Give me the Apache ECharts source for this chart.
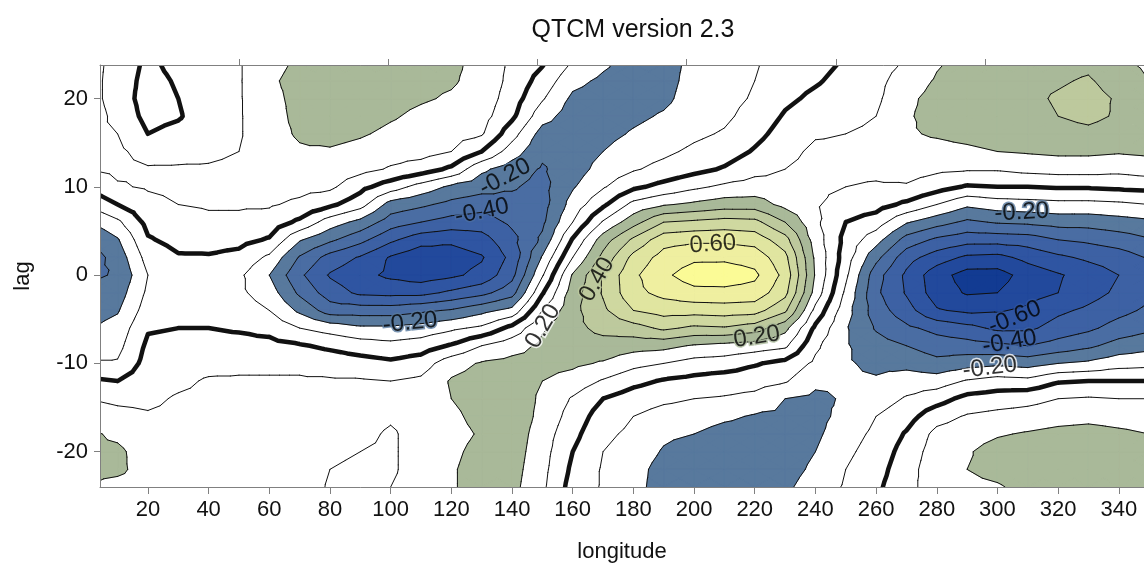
<!DOCTYPE html>
<html>
<head>
<meta charset="utf-8">
<script src="https://cdn.jsdelivr.net/npm/echarts@6/dist/echarts.min.js"></script>
<style>html,body{margin:0;padding:0;background:#fff}#chart{width:1144px;height:568px}</style>
</head>
<body>
<div id="chart"></div>
<script>
// ---- grid coordinates ----
const lonGrid = [0,10,20,30,40,50,60,70,80,90,100,110,120,130,140,150,160,170,180,190,200,210,220,230,240,250,260,270,280,290,300,310,320,330,340,350];
const lagGrid = [-24,-22,-20,-18,-16,-14,-12,-10,-8,-6,-4,-2,0,2,4,6,8,10,12,14,16,18,20,22,24];

// ---- correlation values x100, one column per longitude, lag -24 .. 24 ----
const c0   = [20,22,22,22,15,10,2,-9,-16,-21,-25,-28,-32,-36,-31,-21,-9,2,10,12,13,16,15,15,15];
const c10  = [17,22,22,18,13,8,0,-9,-13,-16,-21,-25,-29,-26,-21,-12,0,9,12,12,10,7,5,5,6];
const c20  = [16,16,15,13,11,8,6,4,2,-1,-5,-8,-10,-6,-1,3,7,11,11,6,0,-3,-4,-3,-2];
const c30  = [15,15,14,13,12,11,8,6,3,0,-3,-5,-6,-1,3,6,10,12,11,7,3,-1,0,1,3];
const c40  = [15,15,14,14,13,12,11,7,3,0,-4,-6,-5,-1,4,8,11,12,11,8,7,6,6,6,7];
const c50  = [15,14,14,14,13,12,11,8,3,-1,-5,-8,-8,-3,3,8,11,13,12,10,9,9,9,9,9];
const c60  = [15,14,14,14,13,12,11,8,3,-3,-10,-15,-20,-12,-1,6,11,14,15,16,17,17,18,19,18];
const c70  = [15,15,14,14,13,12,11,8,1,-10,-22,-32,-38,-31,-19,-2,8,13,16,19,21,22,22,22,21];
const c80  = [9,10,12,13,13,13,11,6,-2,-14,-35,-45,-51,-44,-28,-15,2,12,16,19,23,25,26,26,25];
const c90  = [7,8,10,12,13,13,11,4,-5,-18,-35,-52,-57,-51,-37,-23,-6,3,13,17,21,24,25,25,24];
const c100 = [10,9,9,9,11,12,10,2,-7,-18,-35,-53,-62,-61,-48,-35,-24,-5,9,14,18,21,23,24,24];
const c110 = [13,13,13,13,13,13,12,5,-5,-16,-32,-53,-65,-67,-56,-40,-28,-14,5,14,16,18,21,22,22];
const c120 = [19,19,18,17,18,20,21,16,1,-12,-29,-48,-62,-65,-58,-44,-33,-22,-2,10,14,16,19,21,22];
const c130 = [24,24,23,21,23,24,24,21,10,-8,-23,-43,-57,-61,-54,-45,-36,-26,-18,0,11,14,16,17,17];
const c140 = [23,24,25,26,27,27,26,23,16,3,-17,-34,-43,-47,-43,-38,-33,-29,-25,-15,-6,2,5,7,8];
const c150 = [12,13,14,15,17,18,20,23,22,19,10,-1,-11,-19,-28,-32,-34,-33,-31,-28,-24,-16,-9,-4,1];
const c160 = [-4,-2,0,3,6,9,16,22,25,27,27,25,21,10,1,-10,-16,-21,-25,-26,-26,-25,-22,-17,-11];
const c170 = [-11,-11,-10,-8,-5,0,9,19,26,33,38,41,41,33,25,11,-2,-11,-16,-20,-23,-25,-25,-22,-18];
const c180 = [-17,-16,-14,-12,-10,-5,3,13,24,36,50,57,58,53,42,26,13,-2,-11,-15,-19,-22,-24,-25,-25];
const c190 = [-24,-24,-21,-18,-14,-8,-1,10,23,42,54,63,68,64,56,40,19,3,-7,-12,-16,-19,-22,-23,-23];
const c200 = [-26,-27,-25,-20,-15,-10,-3,6,19,38,54,67,75,68,58,42,22,8,-3,-8,-12,-15,-16,-17,-18];
const c210 = [-27,-30,-28,-24,-18,-11,-5,5,17,39,55,67,76,68,58,44,25,12,1,-5,-9,-12,-13,-14,-14];
const c220 = [-26,-28,-27,-25,-21,-13,-6,1,15,35,54,66,72,66,56,43,25,14,7,1,-3,-6,-9,-10,-11];
const c230 = [-22,-24,-25,-24,-22,-20,-9,-3,12,23,42,53,57,53,44,30,17,13,10,7,4,1,-2,-4,-6];
const c240 = [-15,-18,-20,-22,-23,-22,-18,-12,-8,-2,7,16,19,18,15,12,11,12,13,12,9,5,2,-1,-3];
const c250 = [-9,-10,-12,-14,-17,-19,-19,-19,-19,-19,-16,-12,-8,-5,-3,0,6,10,12,12,10,7,5,3,1];
const c260 = [-2,-4,-6,-8,-10,-15,-19,-22,-26,-31,-35,-38,-36,-27,-16,-5,4,9,12,13,12,10,8,7,6];
const c270 = [7,6,4,1,-4,-9,-15,-23,-30,-38,-46,-51,-52,-46,-34,-19,-2,9,14,17,19,19,18,15,11];
const c280 = [15,16,15,13,6,-4,-15,-27,-35,-43,-59,-65,-66,-55,-42,-26,-10,4,12,17,21,23,23,21,19];
const c290 = [18,20,19,16,11,3,-9,-24,-36,-47,-62,-71,-74,-62,-46,-32,-18,-1,11,18,23,25,26,25,23];
const c300 = [19,23,24,19,13,5,-6,-22,-38,-52,-61,-70,-74,-63,-46,-29,-15,0,11,20,25,28,29,28,26];
const c310 = [23,26,26,21,14,7,-7,-24,-40,-52,-58,-64,-66,-57,-45,-28,-14,0,13,21,25,27,28,28,27];
const c320 = [22,26,27,23,16,10,-1,-20,-36,-46,-52,-60,-61,-52,-40,-26,-13,1,14,22,27,30,31,29,27];
const c330 = [23,26,27,24,17,11,0,-18,-32,-42,-48,-54,-56,-48,-38,-26,-13,1,14,22,28,32,33,31,28];
const c340 = [23,26,26,22,16,10,0,-14,-26,-36,-43,-48,-50,-45,-35,-24,-12,2,13,21,26,29,29,26,22];
const c350 = [22,25,24,20,15,10,0,-13,-23,-32,-38,-42,-43,-39,-31,-22,-10,3,15,22,23,23,22,20,18];
const columns = [c0,c10,c20,c30,c40,c50,c60,c70,c80,c90,c100,c110,c120,c130,c140,c150,c160,c170,c180,c190,c200,c210,c220,c230,c240,c250,c260,c270,c280,c290,c300,c310,c320,c330,c340,c350];

// ---- axis ticks ----
const xTickLabels = [20,40,60,80,100,120,140,160,180,200,220,240,260,280,300,320,340];
const topTicks = [50,100,150,200,250,300];
const yTickLabels = [-20,-10,0,10,20];

// ---- contour levels ----
const posLevels = [0.2,0.3,0.4,0.5,0.6,0.7];
const negLevels = [-0.2,-0.3,-0.4,-0.5,-0.6,-0.7];
const lineLevels = [-0.7,-0.6,-0.5,-0.4,-0.3,-0.2,-0.1,0,0.1,0.2,0.3,0.4,0.5,0.6,0.7];

// ---- contour labels: lon, lag, text, angle ----
const labelLon  = [137.7,130.1,106.4,150.2,168.0,206.2,220.7,308.0,305.7,304.0,297.5];
const labelLag  = [11.1,7.2,-5.4,-5.8,-0.5,3.5,-7.0,7.1,-4.8,-7.6,-10.5];
const labelText = ['-0.20','-0.40','-0.20','0.20','0.40','0.60','0.20','-0.20','-0.60','-0.40','-0.20'];
const labelAngle= [28,12,6,60,60,4,9,3,22,10,7];

const posColors = ['#a9b999','#bdc99d','#cfd8a0','#e0e5a0','#efefa0','#fbfb96'];
const negColors = ['#58799d','#4a6da3','#3d61a4','#2f55a2','#22499c','#123b92'];
const FONT = 'Liberation Sans, Arial, sans-serif';

function V(i,j){ return columns[i][j]/100; }

function valueAt(lon, lag){
  let i = Math.min(lonGrid.length-2, Math.max(0, Math.floor(lon/10)));
  let j = Math.min(lagGrid.length-2, Math.max(0, Math.floor((lag+24)/2)));
  const tx = (lon - lonGrid[i])/10, ty = (lag - lagGrid[j])/2;
  return V(i,j)*(1-tx)*(1-ty)+V(i+1,j)*tx*(1-ty)+V(i,j+1)*(1-tx)*ty+V(i+1,j+1)*tx*ty;
}
function colorFor(v){
  let c = '#ffffff';
  posLevels.forEach((L,k)=>{ if (v>=L) c = posColors[k]; });
  negLevels.forEach((L,k)=>{ if (v<=L) c = negColors[k]; });
  return c;
}

function buildTriangles(){
  const tris = [];
  for (let i=0;i<lonGrid.length-1;i++){
    for (let j=0;j<lagGrid.length-1;j++){
      const a=[lonGrid[i],lagGrid[j],V(i,j)], b=[lonGrid[i+1],lagGrid[j],V(i+1,j)];
      const c=[lonGrid[i+1],lagGrid[j+1],V(i+1,j+1)], d=[lonGrid[i],lagGrid[j+1],V(i,j+1)];
      const m=[(a[0]+b[0])/2,(a[1]+d[1])/2,(a[2]+b[2]+c[2]+d[2])/4];
      tris.push([a,b,m],[b,c,m],[c,d,m],[d,a,m]);
    }
  }
  return tris;
}
const TRIS = buildTriangles();

function clipPoly(poly, f){
  const out=[]; const n=poly.length;
  for (let k=0;k<n;k++){
    const cur=poly[k], prev=poly[(k+n-1)%n];
    const fc=f(cur[2]), fp=f(prev[2]);
    const inter=()=>{ const t=fp/(fp-fc); return [prev[0]+t*(cur[0]-prev[0]), prev[1]+t*(cur[1]-prev[1]), prev[2]+t*(cur[2]-prev[2])]; };
    if (fc>=0){ if (fp<0) out.push(inter()); out.push(cur); }
    else if (fp>=0) out.push(inter());
  }
  return out;
}

function renderContours(params, api){
  const children=[];
  const px = p => api.coord([p[0],p[1]]);
  const defs=[];
  posLevels.forEach((L,k)=>defs.push({f:v=>v-L, color:posColors[k]}));
  negLevels.forEach((L,k)=>defs.push({f:v=>L-v, color:negColors[k]}));
  for (const df of defs){
    let d='';
    for (const t of TRIS){
      const poly=clipPoly(t, df.f);
      if (poly.length<3) continue;
      poly.forEach((p,k)=>{ const q=px(p); d+=(k?'L':'M')+q[0].toFixed(2)+' '+q[1].toFixed(2); });
      d+='Z';
    }
    if (d) children.push({type:'path', shape:{pathData:d}, style:{fill:df.color, stroke:df.color, lineWidth:0.7}});
  }
  for (const L of lineLevels){
    let d='';
    for (const t of TRIS){
      const pts=[];
      for (let e=0;e<3;e++){
        const p=t[e], q=t[(e+1)%3];
        if ((p[2]>=L)!==(q[2]>=L)){
          const tt=(L-p[2])/(q[2]-p[2]);
          pts.push([p[0]+tt*(q[0]-p[0]), p[1]+tt*(q[1]-p[1])]);
        }
      }
      if (pts.length===2){
        const A=px(pts[0]), B=px(pts[1]);
        d+='M'+A[0].toFixed(2)+' '+A[1].toFixed(2)+'L'+B[0].toFixed(2)+' '+B[1].toFixed(2);
      }
    }
    if (d) children.push({type:'path', shape:{pathData:d}, style:{fill:'none', stroke:'#111', lineWidth: Math.abs(L)<1e-9 ? 4.5 : 1, lineCap:'round', lineJoin:'round'}});
  }
  return {type:'group', children};
}

const chart = echarts.init(document.getElementById('chart'), null, {renderer:'canvas'});
const axisGray = '#808080';
chart.setOption({
  animation:false,
  backgroundColor:'#fff',
  title:{text:'QTCM version 2.3', left:628, top:13, textAlign:'center',
    textStyle:{fontSize:25, fontWeight:'normal', color:'#111', fontFamily:FONT}},
  grid:{left:100, right:0, top:65, bottom:81, show:false},
  xAxis:[{
    type:'value', min:4.2, max:348.3, position:'bottom', z:10,
    axisLine:{show:true, onZero:false, lineStyle:{color:axisGray, width:1}},
    axisTick:{show:true, length:7, customValues:xTickLabels, lineStyle:{color:axisGray}},
    axisLabel:{customValues:xTickLabels, fontSize:22, color:'#111', margin:12, fontFamily:FONT},
    splitLine:{show:false},
    name:'longitude', nameLocation:'middle', nameGap:54, nameTextStyle:{fontSize:22, color:'#111', fontFamily:FONT}
  },{
    type:'value', min:3.42, max:353.3, position:'top', z:10,
    axisLine:{show:true, onZero:false, lineStyle:{color:axisGray, width:1}},
    axisTick:{show:true, length:6, customValues:topTicks, lineStyle:{color:axisGray}},
    axisLabel:{show:false}, splitLine:{show:false}
  }],
  yAxis:[{
    type:'value', min:-24, max:23.8, z:10,
    axisLine:{show:true, onZero:false, lineStyle:{color:axisGray, width:1}},
    axisTick:{show:true, length:6, customValues:yTickLabels, lineStyle:{color:axisGray}},
    axisLabel:{customValues:yTickLabels, fontSize:22, color:'#111', margin:12, fontFamily:FONT},
    splitLine:{show:false},
    name:'lag', nameLocation:'middle', nameGap:66, nameRotate:90, nameTextStyle:{fontSize:22, color:'#111', fontFamily:FONT}
  }],
  series:[{
    type:'custom', xAxisIndex:0, yAxisIndex:0, clip:true, silent:true,
    renderItem:renderContours, data:[[0,0]], z:2
  },{
    type:'scatter', xAxisIndex:0, yAxisIndex:0, symbolSize:0, silent:true, z:5,
    data: labelText.map((t,k)=>({name:t, value:[labelLon[k], labelLag[k]],
      label:{rotate:labelAngle[k], textBorderColor:colorFor(valueAt(labelLon[k], labelLag[k]))}})),
    label:{show:true, position:'inside', formatter:'{b}', fontSize:24, color:'#000', fontFamily:FONT, textBorderWidth:3}
  }]
});
</script>
</body>
</html>
